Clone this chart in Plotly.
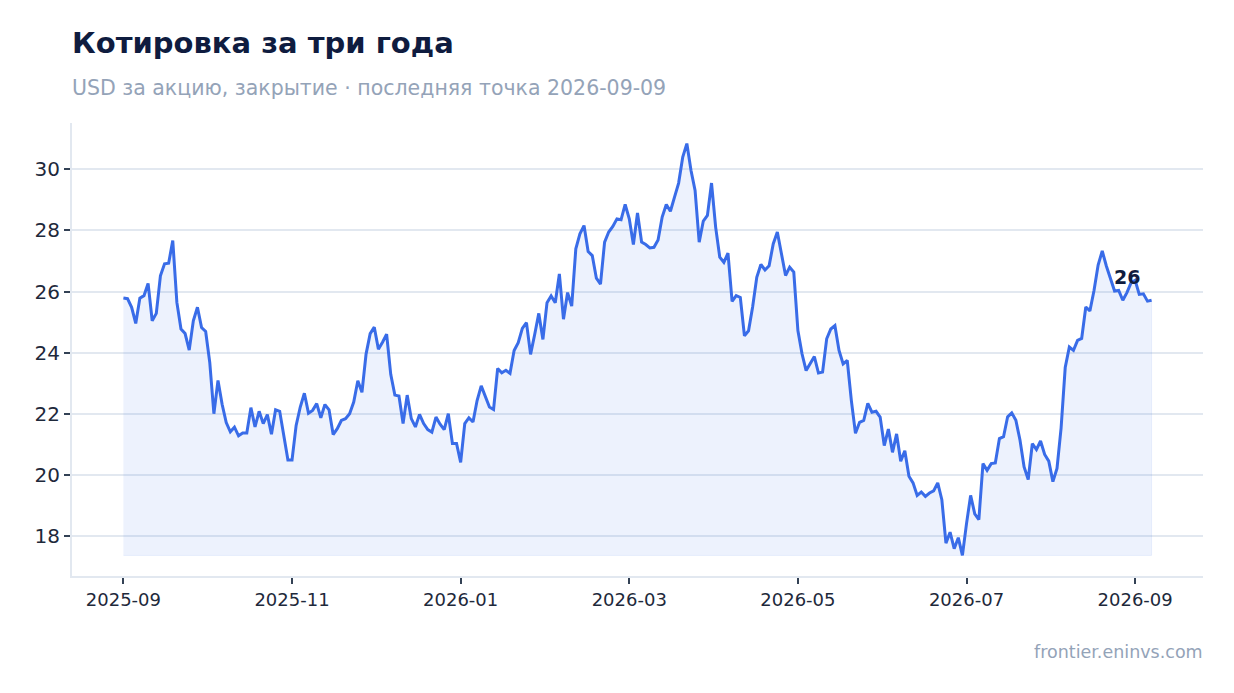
import pandas as pd
import plotly.graph_objects as go

# closing price, one point every ~1.5 days, 2025-09-01 .. 2026-09-09
prices = [
    25.79, 25.77, 25.49, 24.96, 25.79, 25.87, 26.27, 25.05, 25.29, 26.52,
    26.91, 26.93, 27.67, 25.65, 24.78, 24.63, 24.09, 25.05, 25.49, 24.83,
    24.70, 23.68, 22.01, 23.10, 22.32, 21.72, 21.42, 21.57, 21.29, 21.38,
    21.38, 22.21, 21.58, 22.09, 21.69, 21.98, 21.34, 22.14, 22.09, 21.31,
    20.50, 20.50, 21.63, 22.23, 22.68, 22.03, 22.12, 22.34, 21.88, 22.31,
    22.14, 21.33, 21.52, 21.79, 21.85, 22.01, 22.39, 23.09, 22.71, 23.96,
    24.63, 24.84, 24.12, 24.35, 24.61, 23.30, 22.62, 22.59, 21.69, 22.62,
    21.85, 21.58, 21.99, 21.69, 21.49, 21.41, 21.90, 21.67, 21.49, 22.01,
    21.04, 21.04, 20.42, 21.69, 21.88, 21.74, 22.44, 22.92, 22.55, 22.23,
    22.15, 23.49, 23.35, 23.43, 23.33, 24.08, 24.33, 24.80, 24.99, 23.95,
    24.60, 25.29, 24.44, 25.64, 25.86, 25.64, 26.58, 25.10, 25.97, 25.53,
    27.40, 27.89, 28.16, 27.31, 27.18, 26.44, 26.25, 27.62, 27.95, 28.13,
    28.38, 28.35, 28.85, 28.38, 27.54, 28.57, 27.62, 27.54, 27.43, 27.45,
    27.69, 28.44, 28.85, 28.63, 29.09, 29.55, 30.40, 30.84, 29.97, 29.31,
    27.62, 28.31, 28.49, 29.55, 28.11, 27.13, 26.96, 27.26, 25.68, 25.87,
    25.81, 24.56, 24.72, 25.51, 26.47, 26.89, 26.71, 26.85, 27.56, 27.95,
    27.24, 26.53, 26.80, 26.64, 24.73, 23.97, 23.42, 23.66, 23.88, 23.34,
    23.37, 24.46, 24.78, 24.89, 24.08, 23.64, 23.75, 22.44, 21.37, 21.73,
    21.79, 22.35, 22.06, 22.09, 21.90, 20.97, 21.51, 20.75, 21.35, 20.46,
    20.80, 19.97, 19.75, 19.34, 19.45, 19.31, 19.42, 19.49, 19.75, 19.20,
    17.78, 18.14, 17.60, 17.96, 17.38, 18.42, 19.34, 18.74, 18.55, 20.38,
    20.16, 20.38, 20.40, 21.20, 21.26, 21.91, 22.04, 21.80, 21.15, 20.27,
    19.86, 21.03, 20.84, 21.12, 20.68, 20.46, 19.79, 20.22, 21.55, 23.52,
    24.19, 24.08, 24.41, 24.47, 25.50, 25.37, 26.04, 26.87, 27.33, 26.84,
    26.44, 26.02, 26.04, 25.72, 25.97, 26.29, 26.37, 25.91, 25.93, 25.69,
    25.72,
]
start_date = "2025-09-01"
last_date = "2026-09-09"
tick_labels = ["2025-09", "2025-11", "2026-01", "2026-03", "2026-05", "2026-07", "2026-09"]

title = "Котировка за три года"
subtitle = "USD за акцию, закрытие · последняя точка 2026-09-09"
source = "frontier.eninvs.com"

dates = pd.date_range(start_date, last_date, periods=len(prices))
tick_step = 41
tickvals = list(dates[::tick_step])[:len(tick_labels)]

lo, hi = min(prices), max(prices)
pad_y = (hi - lo) * 0.05
span_x = dates[-1] - dates[0]
pad_x = span_x * 0.05

FONT = "DejaVu Sans"
LINE = "#396ce8"
GRID = "#e2e8f0"

fig = go.Figure()

# shaded area down to the lowest close
fig.add_trace(go.Scatter(
    x=list(dates) + list(dates[::-1]),
    y=prices + [lo] * len(prices),
    fill="toself",
    fillcolor="rgba(57,108,232,0.09)",
    line=dict(color="rgba(57,108,232,0.08)", width=1),
    hoverinfo="skip",
    showlegend=False,
))
fig.add_trace(go.Scatter(
    x=dates, y=prices, mode="lines",
    line=dict(color=LINE, width=3),
    showlegend=False,
))

fig.add_annotation(
    x=dates[-1], y=prices[-1], text=f"{prices[-1]:.0f}",
    showarrow=False, xanchor="center", yanchor="middle",
    xshift=-25, yshift=23,
    font=dict(family=FONT, size=19, color="#0f1c3f", weight=700),
)

fig.add_annotation(
    xref="paper", yref="paper", x=0, y=1.177, xanchor="left", yanchor="middle",
    xshift=-2, text=title, showarrow=False,
    font=dict(family=FONT, size=29, color="#0f1c3f", weight=700),
)
fig.add_annotation(
    xref="paper", yref="paper", x=0, y=1.077, xanchor="left", yanchor="middle",
    xshift=-2, text=subtitle, showarrow=False,
    font=dict(family=FONT, size=20.5, color="#94a3b8"),
)
fig.add_annotation(
    xref="paper", yref="paper", x=1, y=-0.168, xanchor="right", yanchor="middle",
    xshift=2, text=source, showarrow=False,
    font=dict(family=FONT, size=17.5, color="#94a3b8"),
)

fig.update_layout(
    width=1234, height=693,
    margin=dict(l=64, r=39, t=115, b=125),
    paper_bgcolor="white", plot_bgcolor="white",
    font=dict(family=FONT, color="#1e293b"),
)
fig.update_xaxes(
    type="date",
    range=[dates[0] - pad_x, dates[-1] + pad_x],
    tickvals=tickvals, ticktext=tick_labels,
    showgrid=False, showline=True, linecolor=GRID, linewidth=2,
    ticks="outside", ticklen=6, tickwidth=1.5, tickcolor="#334155",
    tickfont=dict(family=FONT, size=18, color="#1e293b"),
    zeroline=False,
)
fig.update_yaxes(
    range=[lo - pad_y, hi + pad_y], dtick=2,
    showgrid=True, gridcolor=GRID, gridwidth=1.5,
    showline=True, linecolor=GRID, linewidth=2,
    ticks="outside", ticklen=6, tickwidth=1.5, tickcolor="#334155",
    tickfont=dict(family=FONT, size=20, color="#1e293b"),
    zeroline=False,
)

fig.write_html("out.html")
